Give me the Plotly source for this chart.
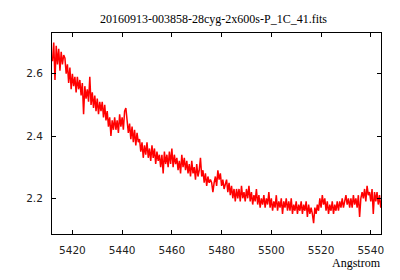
import numpy as np
import plotly.graph_objects as go

title_text = "20160913-003858-28cyg-2x600s-P_1C_41.fits"
x_label = "Angstrom"

wave_start = 5412.0
wave_step = 0.5

flux = [
    2.64, 2.70, 2.58, 2.69, 2.63, 2.68, 2.61, 2.67, 2.63, 2.66,
    2.65, 2.60, 2.63, 2.57, 2.62, 2.55, 2.60, 2.56, 2.59, 2.54,
    2.59, 2.55, 2.58, 2.53, 2.57, 2.47, 2.56, 2.52, 2.55, 2.51,
    2.59, 2.50, 2.54, 2.49, 2.53, 2.48, 2.52, 2.47, 2.51, 2.48,
    2.51, 2.46, 2.50, 2.45, 2.48, 2.43, 2.46, 2.40, 2.45, 2.42,
    2.46, 2.42, 2.45, 2.41, 2.47, 2.43, 2.46, 2.42, 2.48, 2.49,
    2.45, 2.41, 2.44, 2.39, 2.43, 2.38, 2.42, 2.37, 2.41, 2.38,
    2.39, 2.35, 2.38, 2.33, 2.37, 2.34, 2.38, 2.33, 2.36, 2.32,
    2.37, 2.33, 2.36, 2.31, 2.35, 2.32, 2.34, 2.30, 2.34, 2.28,
    2.35, 2.31, 2.34, 2.30, 2.35, 2.31, 2.36, 2.30, 2.34, 2.31,
    2.33, 2.29, 2.32, 2.28, 2.34, 2.30, 2.33, 2.29, 2.32, 2.28,
    2.31, 2.27, 2.32, 2.28, 2.30, 2.26, 2.31, 2.27, 2.29, 2.33,
    2.27, 2.29, 2.25, 2.28, 2.24, 2.27, 2.25, 2.26, 2.25, 2.22,
    2.25, 2.27, 2.24, 2.29, 2.26, 2.28, 2.24, 2.26, 2.23, 2.25,
    2.26, 2.22, 2.25, 2.21, 2.24, 2.20, 2.23, 2.19, 2.23, 2.20,
    2.23, 2.19, 2.24, 2.20, 2.22, 2.19, 2.23, 2.20, 2.24, 2.19,
    2.22, 2.18, 2.21, 2.19, 2.23, 2.18, 2.21, 2.17, 2.20, 2.18,
    2.21, 2.17, 2.20, 2.18, 2.22, 2.17, 2.20, 2.16, 2.19, 2.17,
    2.21, 2.16, 2.19, 2.17, 2.20, 2.15, 2.19, 2.17, 2.20, 2.16,
    2.19, 2.16, 2.20, 2.15, 2.18, 2.16, 2.19, 2.15, 2.18, 2.16,
    2.19, 2.15, 2.18, 2.16, 2.19, 2.14, 2.18, 2.15, 2.17, 2.15,
    2.12, 2.17, 2.15, 2.18, 2.16, 2.20, 2.17, 2.21, 2.18, 2.20,
    2.16, 2.19, 2.15, 2.18, 2.16, 2.19, 2.15, 2.18, 2.16, 2.19,
    2.16, 2.19, 2.17, 2.20, 2.17, 2.19, 2.21, 2.18, 2.20, 2.17,
    2.20, 2.17, 2.21, 2.18, 2.20, 2.17, 2.21, 2.14, 2.20, 2.22,
    2.20, 2.23, 2.19, 2.24, 2.21, 2.22, 2.19, 2.23, 2.15, 2.22,
    2.19, 2.22, 2.18, 2.21, 2.17, 2.20,
]

wavelength = wave_start + wave_step * np.arange(len(flux))

x_range = [5411.8, 5544.1]
y_range = [2.0854, 2.7307]

fig = go.Figure()
fig.add_trace(go.Scatter(
    x=wavelength, y=flux, mode="lines",
    line=dict(color="#ff0000", width=1.5),
    showlegend=False, hoverinfo="skip",
))

axis_common = dict(
    showline=True, linecolor="black", linewidth=1, mirror="allticks",
    ticks="inside", ticklen=4, tickwidth=1, tickcolor="black",
    showgrid=False, zeroline=False,
    tickfont=dict(family="DejaVu Sans", size=10.5, color="#222222"),
)

# page body has an 8px default margin, so margins are reduced by 8px
fig.update_layout(
    width=400, height=280,
    margin=dict(l=44, r=27, t=25, b=54),
    paper_bgcolor="white", plot_bgcolor="white",
    xaxis=dict(range=x_range, dtick=20, tick0=5400, ticklabelstandoff=6, **axis_common),
    yaxis=dict(range=y_range, dtick=0.2, tick0=2.0, tickformat=".1f", ticklabelstandoff=6, **axis_common),
    annotations=[
        dict(text=title_text, xref="paper", yref="paper", x=0.4924, y=1.07,
             xanchor="center", yanchor="middle", showarrow=False,
             font=dict(family="Liberation Serif", size=12, color="black")),
        dict(text=x_label, xref="paper", yref="paper", x=1.005, y=-0.143,
             xanchor="right", yanchor="middle", showarrow=False,
             font=dict(family="Liberation Serif", size=12, color="black")),
    ],
)

fig.write_html("out.html")
